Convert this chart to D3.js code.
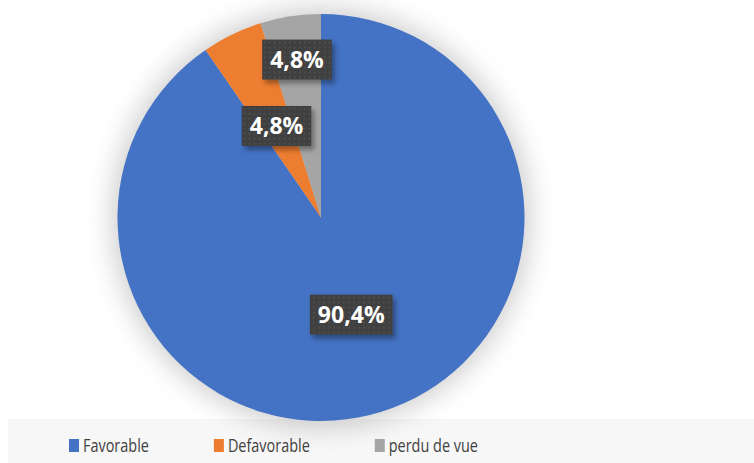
<!DOCTYPE html>
<html>
<head>
<meta charset="utf-8">
<script src="https://cdn.jsdelivr.net/npm/d3@7"></script>
<style>
  html, body { margin: 0; padding: 0; background: #ffffff; }
  svg { display: block; }
</style>
</head>
<body>
<svg id="chart" width="754" height="463"></svg>
<script>
// Outcome shares (%)
const categories = ["Favorable", "Defavorable", "perdu de vue"];
const values = [90.4, 4.8, 4.8];
const colors = ["#4472c4", "#ed7d31", "#a5a5a5"];
const valueLabels = ["90,4%", "4,8%", "4,8%"];

const W = 754, H = 463;
const cx = 321, cy = 217.5, R = 203.5;
const svg = d3.select("#chart");

const defs = svg.append("defs");
// soft halo behind the pie
const halo = defs.append("filter").attr("id", "halo")
  .attr("x", "-30%").attr("y", "-30%").attr("width", "160%").attr("height", "160%");
halo.append("feGaussianBlur").attr("stdDeviation", 14);

// label box shadow
const sh = defs.append("filter").attr("id", "boxShadow")
  .attr("x", "-30%").attr("y", "-30%").attr("width", "170%").attr("height", "190%");
sh.append("feDropShadow").attr("dx", 3).attr("dy", 4).attr("stdDeviation", 2.5)
  .attr("flood-color", "#000").attr("flood-opacity", 0.35);

// dotted fill for the label boxes
const pat = defs.append("pattern").attr("id", "dots")
  .attr("width", 5).attr("height", 5).attr("patternUnits", "userSpaceOnUse");
pat.append("rect").attr("width", 5).attr("height", 5).attr("fill", "#404040");
pat.append("rect").attr("x", 2).attr("y", 2).attr("width", 1.5).attr("height", 1.5).attr("fill", "#555555");

// legend band
svg.append("rect").attr("x", 8).attr("y", 419).attr("width", W - 8).attr("height", H - 419)
  .attr("fill", "#f7f7f7");

const g = svg.append("g").attr("transform", `translate(${cx},${cy})`);

g.append("circle").attr("r", R + 5).attr("fill", "#000").attr("opacity", 0.2)
  .attr("filter", "url(#halo)");

const pie = d3.pie().sort(null).value(d => d)(values);
const arc = d3.arc().innerRadius(0).outerRadius(R);

g.selectAll("path.slice").data(pie).join("path")
  .attr("class", "slice")
  .attr("d", arc)
  .attr("fill", (d, i) => colors[i]);

// Labels: start at the centroid at half radius, push outward when boxes crowd each other
const boxH = 40, clearance = 26;
const font = "bold 23px 'Open Sans', 'DejaVu Sans', sans-serif";
const ctx = document.createElement("canvas").getContext("2d");
ctx.font = font;
const placed = [];
pie.forEach((d, i) => {
  const w = ctx.measureText(valueLabels[i]).width + 16;
  const a = (d.startAngle + d.endAngle) / 2;
  let r = R * 0.5;
  let x, y;
  for (let k = 0; k < 80; k++) {
    x = Math.sin(a) * r; y = -Math.cos(a) * r;
    const hit = placed.some(p => Math.abs(p.x - x) < (p.w + w) / 2 && Math.abs(p.y - y) < boxH + clearance);
    if (!hit) break;
    r += 2;
  }
  placed.push({ x, y, w, i });
});

const lab = g.selectAll("g.lab").data(placed).join("g")
  .attr("class", "lab")
  .attr("transform", d => `translate(${d.x},${d.y})`);
lab.append("rect")
  .attr("x", d => -d.w / 2).attr("y", -boxH / 2)
  .attr("width", d => d.w).attr("height", boxH)
  .attr("fill", "url(#dots)")
  .attr("filter", "url(#boxShadow)");
lab.append("text")
  .attr("text-anchor", "middle").attr("dy", "0.36em")
  .style("font", font).attr("fill", "#ffffff")
  .text(d => valueLabels[d.i]);

// legend: items laid out left to right by their measured width
const legFont = "19px 'Open Sans', 'DejaVu Sans', sans-serif";
const squeeze = 0.76;
ctx.font = legFont;
const legItems = [];
let lx = 69;
categories.forEach((c, i) => {
  const tw = ctx.measureText(c).width * squeeze;
  legItems.push({ c, i, x: lx, tw });
  lx += 14 + tw + 65;
});
const leg = svg.selectAll("g.leg").data(legItems).join("g")
  .attr("class", "leg")
  .attr("transform", d => `translate(${d.x},439)`);
leg.append("rect").attr("width", 10).attr("height", 13)
  .attr("fill", d => colors[d.i]);
leg.append("text").attr("x", 14).attr("y", 13)
  .style("font", legFont)
  .attr("textLength", d => d.tw).attr("lengthAdjust", "spacingAndGlyphs")
  .attr("fill", "#404040")
  .text(d => d.c);
</script>
</body>
</html>
